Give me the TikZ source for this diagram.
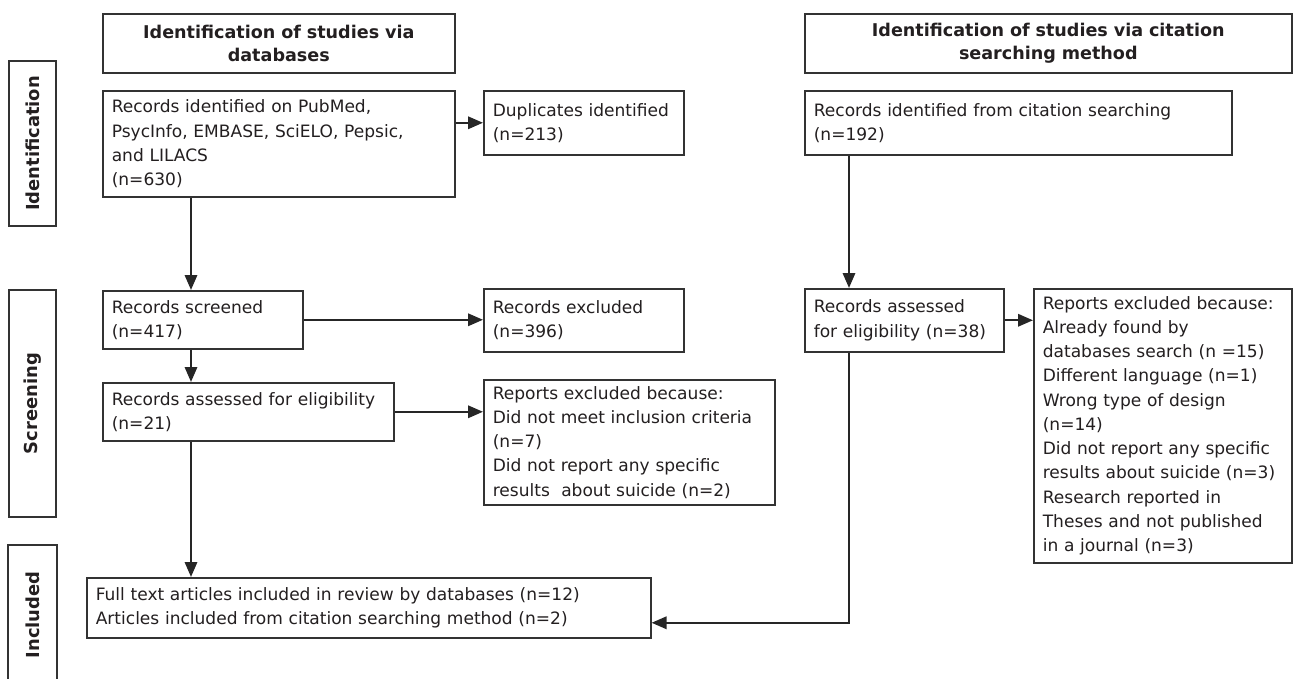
\documentclass[tikz,border=0pt]{standalone}
\usepackage{fontspec}
\setmainfont{DejaVu Sans}
\usepackage{tikz}
\usetikzlibrary{arrows.meta, calc, positioning}
\definecolor{txt}{HTML}{231F20}
\newcommand{\drawa}{\draw[line width=1.3pt, draw=black!85]}
\newcommand{\nohyph}{\hyphenpenalty=10000\relax}

\begin{document}
\begin{tikzpicture}[>={Triangle[length=8.5pt,width=7pt]},
  box/.style={draw=black!80, line width=0.9pt, anchor=north west, align=left, inner xsep=0.18cm, inner ysep=0pt, text=txt, font=\fontsize{9.7}{13.8}\selectfont\nohyph},
  head/.style={draw=black!80, line width=0.9pt, anchor=north west, align=center, inner sep=0pt, minimum height=1.18cm, text=txt, font=\fontsize{10}{13}\selectfont\bfseries},
  side/.style={draw=black!80, line width=0.9pt, rotate=90, inner sep=0pt, minimum height=0.94cm, text=txt, font=\fontsize{10.2}{11}\selectfont\bfseries}]
\useasboundingbox (0,0) rectangle (25.86,13.58);
%\draw[color=blue] (0,0) grid (26,14);

% Column heads
\node[head, text width=7.04cm] (hdb) at (2.04,13.32) {Identification of studies via\\databases};
\node[head, text width=9.74cm] (hcit) at (16.08,13.32) {Identification of studies via citation\\searching method};

% Stage labels
\node[side, minimum width=3.3cm] (sid) at (0.65,10.71) {Identification};
\node[side, minimum width=4.54cm] (sscr) at (0.65,5.51) {Screening};
\node[side, draw=none, minimum width=2.76cm] (sinc) at (0.65,1.28) {Included};
\coordinate (orig) at (0,0);
\draw[draw=black!80, line width=0.9pt] (sinc.north west |- orig) -- (sinc.north east) -- (sinc.south east) -- (sinc.south west |- orig);

% Databases
\node[box, text width=6.68cm, minimum height=2.12cm] (recdb) at (2.04,11.78) {Records identified on PubMed,\\PsycInfo, EMBASE, SciELO, Pepsic,\\and LILACS\\(n=630)};
\node[box, text width=3.64cm, minimum height=1.28cm] (dup) at (9.66,11.78) {Duplicates identified\\(n=213)};
\node[box, text width=3.64cm, minimum height=1.16cm] (scr) at (2.04,7.78) {Records screened\\(n=417)};
\node[box, text width=3.64cm, minimum height=1.26cm] (excl) at (9.66,7.82) {Records excluded\\(n=396)};
\node[box, text width=5.46cm, minimum height=1.16cm] (eldb) at (2.04,5.94) {Records assessed for eligibility\\(n=21)};
\node[box, text width=5.46cm, minimum height=2.5cm] (repdb) at (9.66,6.0) {Reports excluded because:\\Did not meet inclusion criteria\\(n=7)\\Did not report any specific\\results\ \ about suicide (n=2)};

% Citation searching
\node[box, text width=8.18cm, minimum height=1.28cm] (reccit) at (16.08,11.78) {Records identified from citation searching\\(n=192)};
\node[box, text width=3.62cm, minimum height=1.26cm] (elcit) at (16.08,7.82) {Records assessed\\for eligibility (n=38)};
\node[box, text width=4.8cm, minimum height=5.48cm] (repcit) at (20.66,7.82) {Reports excluded because:\\Already found by\\databases search (n =15)\\Different language (n=1)\\Wrong type of design\\(n=14)\\Did not report any specific\\results about suicide (n=3)\\Research reported in\\Theses and not published\\in a journal (n=3)};

% Included
\node[box, text width=10.92cm, minimum height=1.2cm] (incl) at (1.72,2.04) {Full text articles included in review by databases (n=12)\\Articles included from citation searching method (n=2)};

% Arrows
\coordinate (sp1) at (3.82,0);
\coordinate (sp2) at (16.98,0);
\drawa[->] (recdb.east |- dup.west) -- (dup.west);
\drawa[->] (recdb.south -| sp1) -- (scr.north -| sp1);
\drawa[->] (scr.east) -- (excl.west |- scr.east);
\drawa[->] (scr.south -| sp1) -- (eldb.north -| sp1);
\drawa[->] (eldb.east) -- (repdb.west |- eldb.east);
\drawa[->] (eldb.south -| sp1) -- (incl.north -| sp1);

\drawa[->] (reccit.south -| sp2) -- (elcit.north -| sp2);
\drawa[->] (elcit.east) -- (repcit.west |- elcit.east);
\drawa[->] (elcit.south -| sp2) |- ($(incl.east)+(0,-0.3)$);

\end{tikzpicture}
\end{document}
